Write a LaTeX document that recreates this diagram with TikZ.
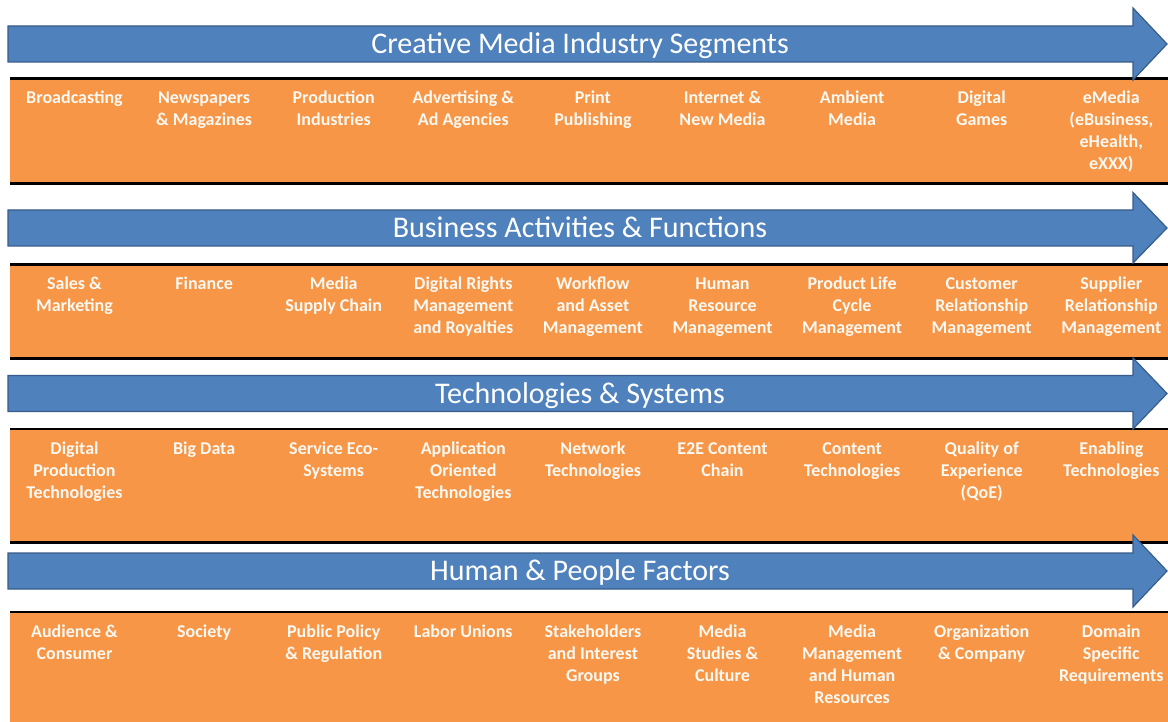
\documentclass[tikz,border=0pt]{standalone}
\usepackage{fontspec}
\setmainfont{Carlito}
\definecolor{ablue}{RGB}{79,129,189}
\definecolor{ablueb}{RGB}{56,93,138}
\definecolor{aorange}{RGB}{246,150,70}
\definecolor{atext}{RGB}{252,248,242}
\tikzset{
  band/.style={fill=aorange},
  rulestyle/.style={line width=2.8pt, draw=black},
  bigarrow/.style={fill=ablue, draw=ablueb, line width=1.2pt, line join=miter},
  titletext/.style={font=\fontsize{30}{36}\selectfont, text=white, anchor=base, inner sep=0pt},
  itemtext/.style={font=\fontsize{18}{22}\selectfont\bfseries, text=atext, align=center, anchor=north, inner sep=0pt}
}
\begin{document}
\begin{tikzpicture}[x=1pt,y=-1pt]
\useasboundingbox (0,0) rectangle (1168,722);
\fill[white] (0,0) rectangle (1168,722);
% bands
\fill[band] (10,78) rectangle (1168,184);
\fill[band] (10,264) rectangle (1168,359);
\fill[band] (10,429) rectangle (1168,543);
\fill[band] (10,612) rectangle (1168,722);
\draw[rulestyle] (10,78.5) -- (1168,78.5);
\draw[rulestyle] (10,183.5) -- (1168,183.5);
\draw[rulestyle] (10,264.5) -- (1168,264.5);
\draw[rulestyle] (10,358.5) -- (1168,358.5);
\draw[rulestyle] (10,429) -- (1168,429);
\draw[rulestyle] (10,542.5) -- (1168,542.5);
\draw[rulestyle] (10,612) -- (1168,612);
% arrows
\path[bigarrow] (8,26) -- (1133,26) -- (1133,8) -- (1167,44) -- (1133,80) -- (1133,62) -- (8,62) -- cycle;
\path[bigarrow] (8,210) -- (1133,210) -- (1133,192.5) -- (1167,228) -- (1133,263) -- (1133,246) -- (8,246) -- cycle;
\path[bigarrow] (8,375.5) -- (1133,375.5) -- (1133,358) -- (1167,393.5) -- (1133,429) -- (1133,411.5) -- (8,411.5) -- cycle;
\path[bigarrow] (8,553) -- (1133,553) -- (1133,535) -- (1167,571) -- (1133,607) -- (1133,589) -- (8,589) -- cycle;
% titles
\node[titletext] (t1) at (580,53.5) {Creative Media Industry Segments};
\node[titletext] (t2) at (580,237.5) {Business Activities \& Functions};
\node[titletext] (t3) at (580,403) {Technologies \& Systems};
\node[titletext] (t4) at (580,580.5) {Human \& People Factors};
% items
\foreach \t [count=\i from 0] in {{Broadcasting},{Newspapers\\\& Magazines},{Production\\Industries},{Advertising \&\\Ad Agencies},{Print\\Publishing},{Internet \&\\New Media},{Ambient\\Media},{Digital\\Games},{eMedia\\(eBusiness,\\eHealth,\\eXXX)}}
  \node[itemtext] (a\i) at (74.5+129.6*\i,87.6) {\strut\t};
\foreach \t [count=\i from 0] in {{Sales \&\\Marketing},{Finance},{Media\\Supply Chain},{Digital Rights\\Management\\and Royalties},{Workflow\\and Asset\\Management},{Human\\Resource\\Management},{Product Life\\Cycle\\Management},{Customer\\Relationship\\Management},{Supplier\\Relationship\\Management}}
  \node[itemtext] (b\i) at (74.5+129.6*\i,273.6) {\strut\t};
\foreach \t [count=\i from 0] in {{Digital\\Production\\Technologies},{Big Data},{Service Eco-\\Systems},{Application\\Oriented\\Technologies},{Network\\Technologies},{E2E Content\\Chain},{Content\\Technologies},{Quality of\\Experience\\(QoE)},{Enabling\\Technologies}}
  \node[itemtext] (c\i) at (74.5+129.6*\i,438.6) {\strut\t};
\foreach \t [count=\i from 0] in {{Audience \&\\Consumer},{Society},{Public Policy\\\& Regulation},{Labor Unions},{Stakeholders\\and Interest\\Groups},{Media\\Studies \&\\Culture},{Media\\Management\\and Human\\Resources},{Organization\\\& Company},{Domain\\Specific\\Requirements}}
  \node[itemtext] (d\i) at (74.5+129.6*\i,621.6) {\strut\t};
\end{tikzpicture}
\end{document}
